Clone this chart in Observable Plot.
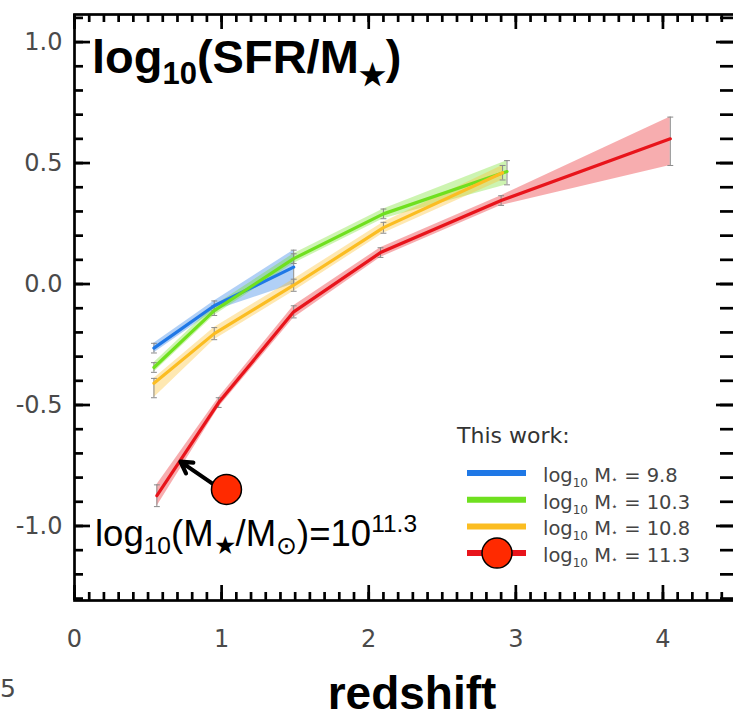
<!DOCTYPE html>
<html><head><meta charset="utf-8">
<script src="https://cdn.jsdelivr.net/npm/d3@7"></script>
<script src="https://cdn.jsdelivr.net/npm/@observablehq/plot@0.6"></script>
<style>body{margin:0;background:#fff}#chart{position:relative;width:733px;height:715px;overflow:hidden}</style>
</head><body><div id="chart"></div>
<script>
// ---- data ----
const seriesNames = ["9.8", "10.3", "10.8", "11.3"];
const seriesColors = ["#1f78e6", "#6fe01f", "#fbbd22", "#e8141b"];

const zBlue  = [0.54, 0.95, 1.49];
const yBlue  = [-0.265, -0.09, 0.07];
const loBlue = [-0.285, -0.11, 0.0];
const hiBlue = [-0.245, -0.07, 0.14];

const zGreen  = [0.54, 0.95, 1.49, 2.10, 2.94];
const yGreen  = [-0.345, -0.11, 0.105, 0.29, 0.465];
const loGreen = [-0.365, -0.13, 0.085, 0.27, 0.41];
const hiGreen = [-0.325, -0.09, 0.125, 0.31, 0.51];

const zOrange  = [0.54, 0.95, 1.49, 2.10, 2.91];
const yOrange  = [-0.41, -0.205, -0.005, 0.233, 0.46];
const loOrange = [-0.47, -0.23, -0.03, 0.21, 0.43];
const hiOrange = [-0.39, -0.18, 0.02, 0.255, 0.49];

const zRed  = [0.56, 0.98, 1.49, 2.08, 2.90, 4.05];
const yRed  = [-0.875, -0.49, -0.115, 0.13, 0.345, 0.60];
const loRed = [-0.92, -0.51, -0.14, 0.11, 0.325, 0.49];
const hiRed = [-0.83, -0.47, -0.09, 0.15, 0.365, 0.69];

const xMajor = [0, 1, 2, 3, 4];
const yMajor = [-1.0, -0.5, 0.0, 0.5, 1.0];
const xMinor = d3.range(0, 45).map(i => i / 10);
const yMinor = d3.range(-13, 12).map(i => i / 10);

// annotation: arrow from the marker to the 11.3 curve
const annotArrow = [{x1: 0.938, y1: -0.825, x2: 0.72, y2: -0.734}];
const annotDot = [{x: 1.033, y: -0.849}];

// ---- build table ----
function mk(name, zs, ys, los, his) {
  return zs.map((z, i) => ({series: name, z, y: ys[i], lo: los[i], hi: his[i]}));
}
const rows = [
  ...mk("9.8", zBlue, yBlue, loBlue, hiBlue),
  ...mk("10.3", zGreen, yGreen, loGreen, hiGreen),
  ...mk("10.8", zOrange, yOrange, loOrange, hiOrange),
  ...mk("11.3", zRed, yRed, loRed, hiRed)
];

const W = 733, H = 715, mL = 74, mT = 14, mB = 115, mR = -3;
const pw = W - mL - mR, ph = H - mT - mB;

const plot = Plot.plot({
  width: W, height: H,
  marginLeft: mL, marginTop: mT, marginBottom: mB, marginRight: mR,
  x: {domain: [0, 4.5]},
  y: {domain: [-1.308, 1.114]},
  color: {domain: seriesNames, range: seriesColors},
  style: {fontFamily: "DejaVu Sans", background: "white", overflow: "visible"},
  marks: [
    Plot.areaY(rows, {x: "z", y1: "lo", y2: "hi", z: "series", fill: "series", fillOpacity: 0.35}),
    Plot.ruleX(rows, {x: "z", y1: "lo", y2: "hi", stroke: "#8a8a8a", strokeWidth: 1}),
    Plot.link(rows, {x1: d => d.z - 0.02, x2: d => d.z + 0.02, y1: "lo", y2: "lo", stroke: "#8a8a8a", strokeWidth: 1}),
    Plot.link(rows, {x1: d => d.z - 0.02, x2: d => d.z + 0.02, y1: "hi", y2: "hi", stroke: "#8a8a8a", strokeWidth: 1}),
    Plot.line(rows, {x: "z", y: "y", z: "series", stroke: "series", strokeWidth: 3.2}),
    // ticks (inward)
    Plot.tickY(yMinor, {y: d => d, insetRight: pw - 9, strokeWidth: 2.7}),
    Plot.tickY(yMajor, {y: d => d, insetRight: pw - 16, strokeWidth: 2.7}),
    Plot.tickY(yMinor, {y: d => d, insetLeft: pw - 16, strokeWidth: 2.7}),
    Plot.tickY(yMajor, {y: d => d, insetLeft: pw - 20, strokeWidth: 2.7}),
    Plot.tickX(xMinor, {x: d => d, insetTop: ph - 8, strokeWidth: 2.7}),
    Plot.tickX(xMajor, {x: d => d, insetTop: ph - 15, strokeWidth: 2.7}),
    Plot.tickX(xMinor, {x: d => d, insetBottom: ph - 8, strokeWidth: 2.7}),
    Plot.tickX(xMajor, {x: d => d, insetBottom: ph - 15, strokeWidth: 2.7}),
    Plot.frame({stroke: "black", strokeWidth: 2.7}),
    Plot.axisY({ticks: yMajor, tickSize: 0, tickPadding: 12, fontSize: 24, color: "#4a4a4a",
      tickFormat: d => (d < 0 ? "-" : "") + Math.abs(d).toFixed(1), label: null}),
    Plot.axisX({ticks: xMajor, tickSize: 0, tickPadding: 29, fontSize: 24, color: "#4a4a4a",
      tickFormat: d => String(d), label: null}),
    // annotation
    Plot.arrow(annotArrow, {x1: "x1", y1: "y1", x2: "x2", y2: "y2", stroke: "black", strokeWidth: 4.2, headLength: 18}),
    Plot.dot(annotDot, {x: "x", y: "y", r: 15, fill: "#ff2a00", stroke: "black", strokeWidth: 1.5})
  ]
});
document.getElementById("chart").appendChild(plot);

// ---- text overlays ----
const svg = d3.select(plot);
const sans = "'Liberation Sans', Arial, sans-serif";
const over = svg.append("g").attr("text-anchor", "start");

// title
const t = over.append("text").attr("x", 92).attr("y", 73).attr("font-family", sans)
  .attr("font-weight", "bold").attr("font-size", 47).attr("fill", "black");
t.append("tspan").text("log");
t.append("tspan").attr("font-size", 31).attr("dy", 11).text("10");
t.append("tspan").attr("dy", -11).text("(SFR/M");
t.append("tspan").attr("font-size", 30).attr("dy", 12).text("★");
t.append("tspan").attr("dy", -12).text(")");

// annotation label
const a = over.append("text").attr("x", 95).attr("y", 546).attr("font-family", sans)
  .attr("font-size", 36.5).attr("fill", "black");
a.append("tspan").text("log");
a.append("tspan").attr("font-size", 24.5).attr("dy", 8).text("10");
a.append("tspan").attr("dy", -8).text("(M");
a.append("tspan").attr("font-size", 24.5).attr("dy", 8).text("★");
a.append("tspan").attr("dy", -8).text("/M");
a.append("tspan").attr("font-size", 24.5).attr("dy", 8).text("⊙");
a.append("tspan").attr("dy", -8).text(")=10");
a.append("tspan").attr("font-size", 24.5).attr("dy", -14).text("11.3");

// x axis title
over.append("text").attr("x", 412).attr("y", 709).attr("text-anchor", "middle")
  .attr("font-family", sans).attr("font-weight", "bold").attr("font-size", 46).text("redshift");

// stray fragment of neighbouring panel
over.append("text").attr("x", 0).attr("y", 697).attr("font-family", "DejaVu Sans")
  .attr("font-size", 25).attr("fill", "#4a4a4a").text("5");

// legend
const lg = over.append("g").attr("font-family", "DejaVu Sans");
lg.append("text").attr("x", 457).attr("y", 443).attr("font-size", 22).attr("fill", "#333").text("This work:");
seriesNames.forEach((name, i) => {
  const yy = 473 + i * 26.7;
  lg.append("line").attr("x1", 467).attr("x2", 526).attr("y1", yy).attr("y2", yy)
    .attr("stroke", seriesColors[i]).attr("stroke-width", 6);
  const tx = lg.append("text").attr("x", 543).attr("y", yy + 9).attr("font-size", 19.5).attr("fill", "#444");
  tx.append("tspan").text("log");
  tx.append("tspan").attr("font-size", 12).attr("dy", 5).text("10");
  tx.append("tspan").attr("dy", -5).text(" M");
  tx.append("tspan").attr("font-size", 11).attr("dy", 1).text("⋆");
  tx.append("tspan").attr("dy", -1).text(" = " + name);
});
lg.append("circle").attr("cx", 497).attr("cy", 473 + 3 * 26.7).attr("r", 15)
  .attr("fill", "#ff2a00").attr("stroke", "black").attr("stroke-width", 1.5);
</script>
</body></html>
